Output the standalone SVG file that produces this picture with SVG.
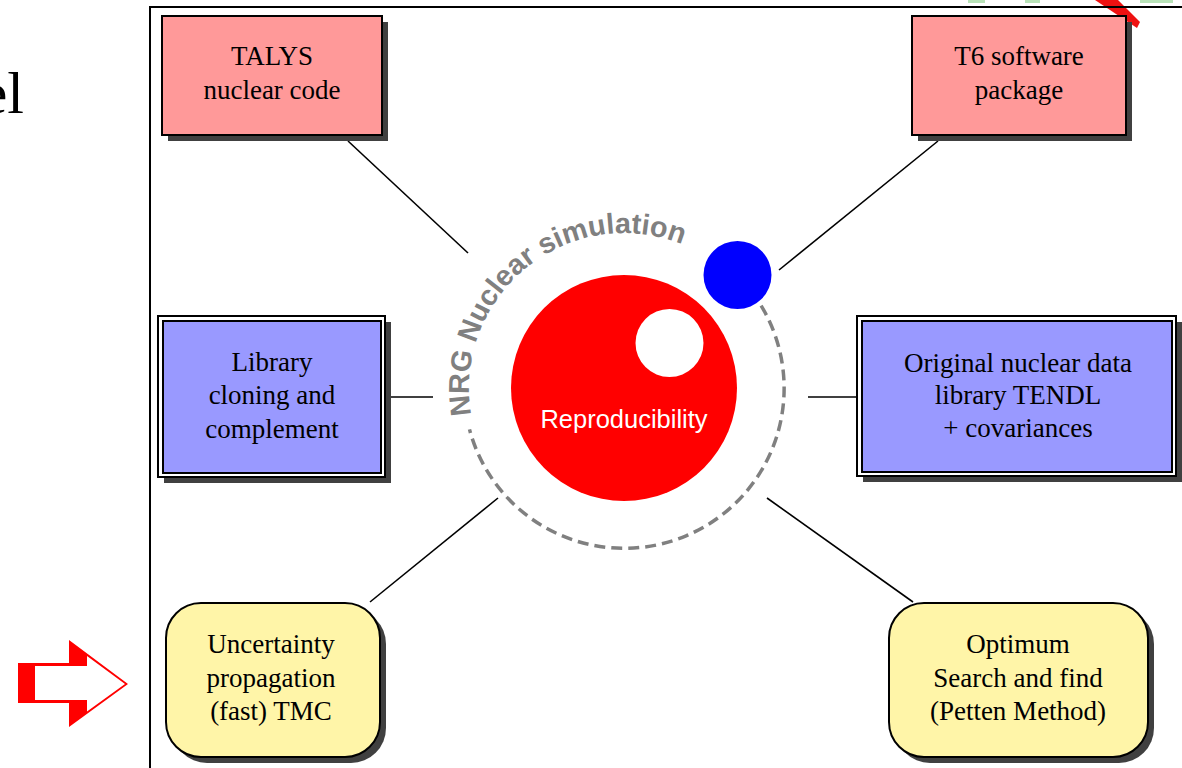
<svg xmlns="http://www.w3.org/2000/svg" width="1182" height="768" viewBox="0 0 1182 768">
<defs>
<style>
.box{stroke:#000;stroke-width:2}
.shadow{fill:#404040}
.red{fill:#ff9999}
.blue{fill:#9999ff}
.yel{fill:#fff5a8}
.lbl{font-family:"Liberation Serif","Times New Roman",serif;font-size:27px;fill:#000;text-anchor:middle}
.conn{stroke:#000;stroke-width:1.6;fill:none}
</style>
<path id="arcText" d="M 471.4 414.9 A 155 155 0 0 1 742.7 288.4"/>
</defs>
<rect width="1182" height="768" fill="#fff"/>

<!-- partial logo at top right -->
<g id="logo">
<rect x="968" y="0" width="17" height="3" fill="#b8e2b8"/>
<rect x="1025" y="0" width="15" height="3" fill="#b8e2b8"/>
<rect x="1140" y="0" width="33" height="3" fill="#b8e2b8"/>
<polygon points="1095,0 1118,0 1140,22 1137,28 1122,18" fill="#ee1111"/>
</g>

<!-- left cut-off title text -->
<text x="24" y="113" font-family="Liberation Serif, serif" font-size="60" text-anchor="end" fill="#000">el</text>

<!-- frame -->
<path d="M 150 768 L 150 7 L 1182 7" fill="none" stroke="#000" stroke-width="2"/>

<!-- red outline arrow -->
<g id="arrow">
<polygon points="18,663 69,663 69,640 128,684 69,727 69,703 18,703" fill="#ff0000"/>
<polygon points="35,666 87,666 87,656 125,684 87,711.5 87,700 35,700" fill="#fff"/>
</g>

<!-- connectors -->
<g id="connectors">
<line class="conn" x1="348" y1="141" x2="468" y2="253"/>
<line class="conn" x1="938" y1="141" x2="779" y2="270"/>
<line class="conn" x1="391" y1="397" x2="433" y2="397"/>
<line class="conn" x1="808" y1="397" x2="857" y2="397"/>
<line class="conn" x1="370" y1="602" x2="498" y2="498"/>
<line class="conn" x1="913" y1="602" x2="767" y2="498"/>
</g>

<!-- center -->
<g id="center">
<path d="M 761.1 305.6 A 160 160 0 1 1 469.5 429.4" fill="none" stroke="#808080" stroke-width="3.5" stroke-dasharray="11 6"/>
<text font-family="Liberation Sans, Arial, sans-serif" font-weight="bold" font-size="28.8" fill="#808080"><textPath href="#arcText">NRG Nuclear simulation</textPath></text>
<circle cx="624" cy="388" r="113" fill="#ff0000"/>
<circle cx="669.5" cy="343" r="34" fill="#fff"/>
<circle cx="737.5" cy="275" r="34" fill="#0000ff"/>
<text x="624" y="428" font-family="Liberation Sans, Arial, sans-serif" font-size="25.5" fill="#fff" text-anchor="middle">Reproducibility</text>
</g>

<g id="talys">
<rect class="shadow" x="168" y="22" width="220" height="119"/>
<rect class="box red" x="162" y="16" width="220" height="119"/>
<text class="lbl" x="272" y="65">TALYS</text>
<text class="lbl" x="272" y="99">nuclear code</text>
</g>

<g id="t6">
<rect class="shadow" x="918" y="22" width="214" height="119"/>
<rect class="box red" x="912" y="16" width="214" height="119"/>
<text class="lbl" x="1019" y="65">T6 software</text>
<text class="lbl" x="1019" y="99">package</text>
</g>

<g id="library">
<rect class="shadow" x="164" y="322" width="227" height="161"/>
<rect class="box" fill="#fff" x="158" y="316" width="227" height="161"/>
<rect class="box blue" x="163" y="321" width="218" height="152" stroke-width="1.8"/>
<text class="lbl" x="272" y="371">Library</text>
<text class="lbl" x="272" y="404">cloning and</text>
<text class="lbl" x="272" y="438">complement</text>
</g>

<g id="original">
<rect class="shadow" x="863" y="322" width="319" height="160"/>
<rect class="box" fill="#fff" x="857" y="316" width="319" height="160"/>
<rect class="box blue" x="862" y="321" width="310" height="151" stroke-width="1.8"/>
<text class="lbl" x="1018" y="372">Original nuclear data</text>
<text class="lbl" x="1018" y="404">library TENDL</text>
<text class="lbl" x="1018" y="437">+ covariances</text>
</g>

<g id="uncertainty">
<rect class="shadow" x="172" y="609" width="214" height="154" rx="35"/>
<rect class="box yel" x="166" y="603" width="214" height="154" rx="35"/>
<text class="lbl" x="271" y="653">Uncertainty</text>
<text class="lbl" x="271" y="687">propagation</text>
<text class="lbl" x="271" y="720">(fast) TMC</text>
</g>

<g id="optimum">
<rect class="shadow" x="895" y="609" width="259" height="154" rx="35"/>
<rect class="box yel" x="889" y="603" width="259" height="154" rx="35"/>
<text class="lbl" x="1018" y="653">Optimum</text>
<text class="lbl" x="1018" y="687">Search and find</text>
<text class="lbl" x="1018" y="720">(Petten Method)</text>
</g>
</svg>
